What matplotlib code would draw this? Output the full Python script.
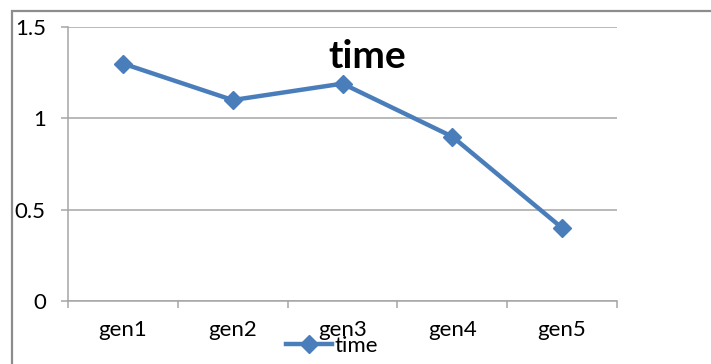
import matplotlib
matplotlib.use("Agg")
import matplotlib.pyplot as plt
from matplotlib.patches import Rectangle
from matplotlib.ticker import FixedLocator, NullFormatter

categories = ["gen1", "gen2", "gen3", "gen4", "gen5"]
time_values = [1.3, 1.1, 1.19, 0.9, 0.4]
y_ticks = [0, 0.5, 1, 1.5]
y_tick_labels = ["0", "0.5", "1", "1.5"]
series_name = "time"

W, H = 711, 364
DPI = 100
plt.rcParams["font.family"] = ["Lato", "DejaVu Sans"]

fig = plt.figure(figsize=(W / DPI, H / DPI), dpi=DPI)
fig.patch.set_facecolor("white")

# outer chart border (runs off the right and bottom edges)
fig.add_artist(Rectangle((12 / W, -0.2), 1.2, (H - 11) / H + 0.2,
                         transform=fig.transFigure, fill=False,
                         edgecolor="#8c8c8c", linewidth=1.6, clip_on=False))

left, right, top, bottom = 68, 617, 27, 301
ax = fig.add_axes([left / W, (H - bottom) / H, (right - left) / W, (bottom - top) / H])

grid_color = "#a6a6a6"
x = list(range(len(categories)))
line_color = "#4a7ebb"
ax.plot(x, time_values, color=line_color, linewidth=3.2, marker="D",
        markersize=9, markerfacecolor=line_color, markeredgecolor=line_color,
        label=series_name, solid_joinstyle="round", zorder=3, clip_on=False)

ax.set_xlim(-0.5, len(categories) - 0.5)
ax.set_ylim(0, 1.5)

for s in ["top", "right"]:
    ax.spines[s].set_visible(False)
for s in ["left", "bottom"]:
    ax.spines[s].set_color(grid_color)
    ax.spines[s].set_linewidth(1.1)

ax.set_yticks(y_ticks)
ax.set_yticklabels(y_tick_labels)
ax.yaxis.grid(True, color=grid_color, linewidth=1.1)
ax.set_axisbelow(True)
ax.tick_params(axis="y", direction="out", length=5, width=1.1, color=grid_color,
               pad=11, labelsize=16, labelcolor="#000000")

# category boundaries get tick marks; names sit at the centres
ax.xaxis.set_major_locator(FixedLocator([i - 0.5 for i in range(len(categories) + 1)]))
ax.xaxis.set_major_formatter(NullFormatter())
ax.xaxis.set_minor_locator(FixedLocator(x))
ax.set_xticklabels(categories, minor=True)
ax.tick_params(axis="x", which="major", direction="out", length=5, width=1.1,
               color=grid_color)
ax.tick_params(axis="x", which="minor", length=0, pad=14, labelsize=16,
               labelcolor="#000000")

fig.text(367 / W, 1 - 56 / H, "time", ha="center", va="center",
         fontsize=28, fontweight="bold", color="#000000")

leg = ax.legend(loc="center", bbox_to_anchor=(332 / W, 1 - 346 / H),
                bbox_transform=fig.transFigure, frameon=False, fontsize=16,
                handlelength=2.1, handletextpad=0.1, borderpad=0)

fig.savefig("out.png", dpi=DPI, facecolor="white")
